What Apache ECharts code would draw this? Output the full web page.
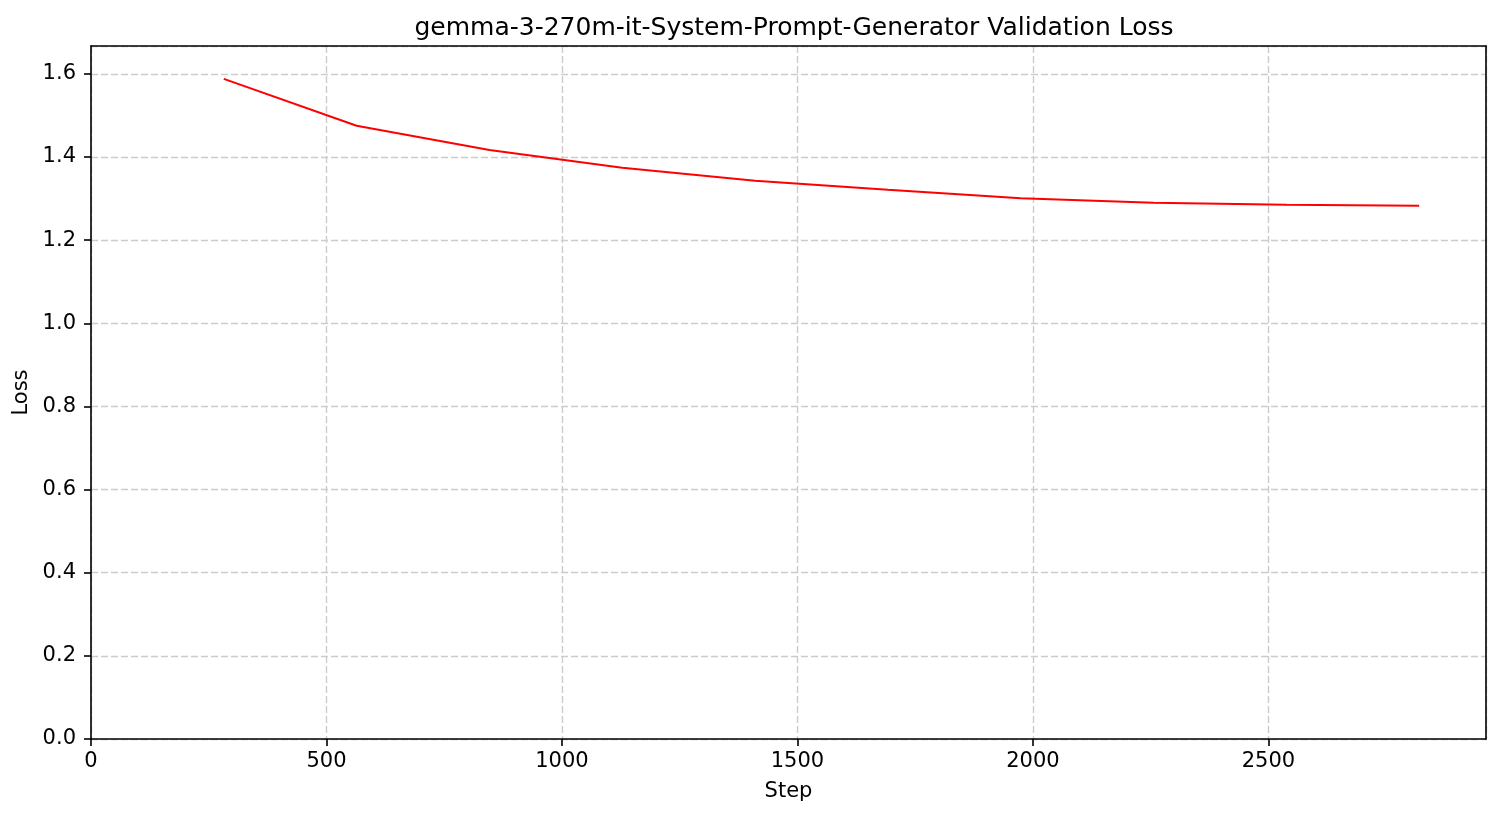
<!DOCTYPE html>
<html>
<head>
<meta charset="utf-8">
<script src="https://cdn.jsdelivr.net/npm/echarts@6/dist/echarts.min.js"></script>
<style>
  html, body { margin: 0; padding: 0; background: #fff; }
  #main { width: 1501px; height: 817px; }
</style>
</head>
<body>
<div id="main"></div>
<script>
// validation loss
const steps = [282, 564, 846, 1128, 1410, 1692, 1974, 2256, 2538, 2820]
const losses = [1.588, 1.475, 1.417, 1.374, 1.343, 1.321, 1.301, 1.290, 1.285, 1.283]

const chartTitle = 'gemma-3-270m-it-System-Prompt-Generator Validation Loss'

var myChart = echarts.init(document.getElementById('main'))

const font = 'DejaVu Sans'
const xMax = 2962
const yMax = 1.667
const gridLine = { show: true, lineStyle: { color: '#cccccc', type: [7, 3], width: 1.4 } }
const spine = { show: true, onZero: false, lineStyle: { color: '#000', width: 1.6 } }

var option = {
  animation: false,
  backgroundColor: '#fff',
  title: {
    text: chartTitle,
    left: 789,
    textAlign: 'center',
    top: 11,
    textStyle: { fontFamily: font, fontSize: 25, fontWeight: 'normal', color: '#000' }
  },
  grid: { left: 91, right: 15, top: 46, bottom: 78, outerBoundsMode: 'none' },
  xAxis: [{
    type: 'value',
    min: 0,
    max: xMax,
    interval: 500,
    name: 'Step',
    nameLocation: 'middle',
    nameGap: 42,
    nameTextStyle: { fontFamily: font, fontSize: 21, color: '#000' },
    axisLine: spine,
    axisTick: { show: true, length: 7, lineStyle: { color: '#000', width: 1.6 } },
    axisLabel: {
      fontFamily: font, fontSize: 21, color: '#000', margin: 12, showMaxLabel: false,
      formatter: v => String(v)
    },
    splitLine: gridLine
  }, {
    type: 'value', position: 'top', min: 0, max: xMax,
    axisLine: spine, axisTick: { show: false }, axisLabel: { show: false }, splitLine: { show: false }
  }],
  yAxis: [{
    type: 'value',
    min: 0,
    max: yMax,
    interval: 0.2,
    name: 'Loss',
    nameLocation: 'middle',
    nameGap: 50,
    nameTextStyle: { fontFamily: font, fontSize: 21, color: '#000' },
    axisLine: spine,
    axisTick: { show: true, length: 7, lineStyle: { color: '#000', width: 1.6 } },
    axisLabel: {
      fontFamily: font, fontSize: 21, color: '#000', margin: 15, showMaxLabel: false,
      formatter: v => v.toFixed(1)
    },
    splitLine: gridLine
  }, {
    type: 'value', position: 'right', min: 0, max: yMax,
    axisLine: spine, axisTick: { show: false }, axisLabel: { show: false }, splitLine: { show: false }
  }],
  series: [{
    type: 'line',
    data: steps.map((s, i) => [s, losses[i]]),
    showSymbol: false,
    lineStyle: { color: '#ff0000', width: 2 },
    itemStyle: { color: '#ff0000' }
  }]
}

myChart.setOption(option)
</script>
</body>
</html>
